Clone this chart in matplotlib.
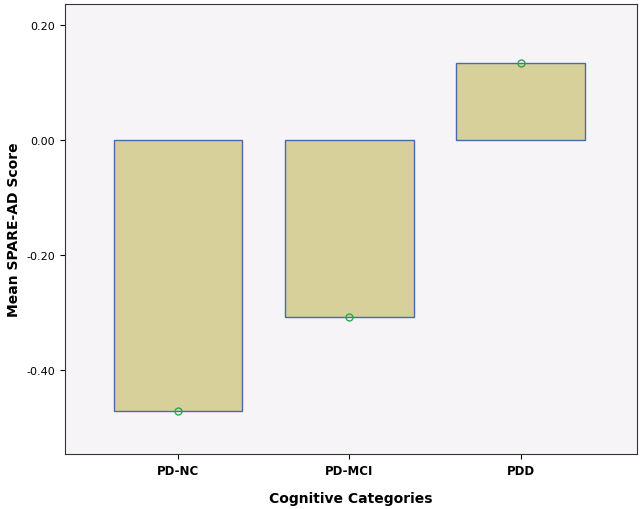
import matplotlib
matplotlib.use("Agg")
import matplotlib.pyplot as plt

categories = ["PD-NC", "PD-MCI", "PDD"]
means = [-0.471, -0.308, 0.134]
yticks = [0.20, 0.00, -0.20, -0.40]
ytick_labels = ["0.20", "0.00", "-0.20", "-0.40"]

fig = plt.figure(figsize=(6.4, 5.1), dpi=100)
ax = fig.add_axes([65/640, 55/510, 572/640, 450/510])
ax.set_facecolor("#F6F4F6")
x = range(len(categories))
ax.bar(x, means, width=0.75, color="#D7D09B", edgecolor="#4A68B0", linewidth=1)
ax.plot(x, means, "o", mfc="none", mec="#2BA84A", ms=5, mew=1)
ax.set_xlim(-0.66, 2.68)
ax.set_ylim(-0.546, 0.2365)
ax.set_yticks(yticks)
ax.set_yticklabels(ytick_labels, fontsize=8)
ax.set_xticks(list(x))
ax.set_xticklabels(categories, fontsize=8.5, fontweight="bold")
ax.set_ylabel("Mean SPARE-AD Score", fontsize=10, fontweight="bold")
ax.set_xlabel("Cognitive Categories", fontsize=10, fontweight="bold", labelpad=10)
for s in ax.spines.values():
    s.set_color("#333333")
    s.set_linewidth(0.8)
fig.savefig("out.png", dpi=100)
